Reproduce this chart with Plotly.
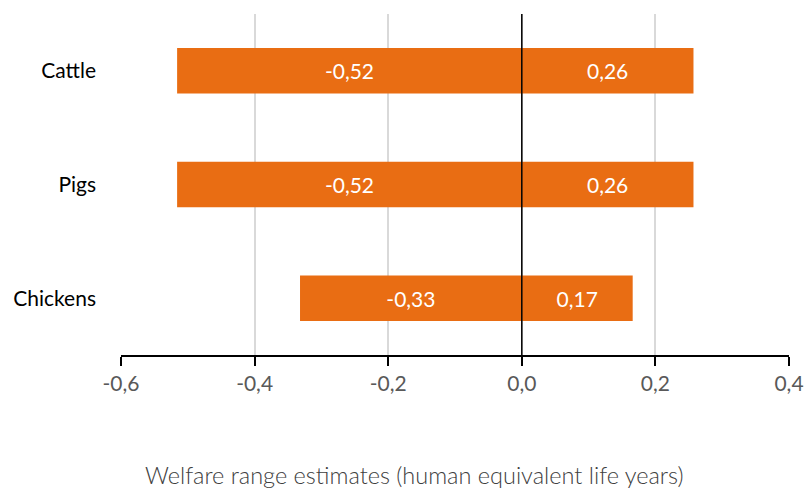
import plotly.graph_objects as go

categories = ["Cattle", "Pigs", "Chickens"]
low_values = [-0.516, -0.516, -0.332]
high_values = [0.257, 0.257, 0.166]
tick_values = [-0.6, -0.4, -0.2, 0.0, 0.2, 0.4]
tick_labels = ["-0,6", "-0,4", "-0,2", "0,0", "0,2", "0,4"]
axis_title = "Welfare range estimates (human equivalent life years)"

ORANGE = "#E96D13"
FONT = "Lato"

fig = go.Figure()
for vals in (low_values, high_values):
    fig.add_trace(go.Bar(
        y=categories, x=vals, orientation="h",
        marker=dict(color=ORANGE, line=dict(width=0)),
        width=0.4,
        text=[f"{v:.2f}".replace(".", ",") for v in vals],
        textposition="inside", insidetextanchor="middle",
        textfont=dict(family=FONT, size=21, color="white"),
        showlegend=False, cliponaxis=False,
    ))

fig.add_shape(type="line", x0=0, x1=0, xref="x", y0=0, y1=1, yref="paper",
              line=dict(color="black", width=1.5), layer="above")

fig.add_annotation(text=axis_title, xref="paper", yref="paper", x=0.44, y=-0.352,
                   xanchor="center", yanchor="middle", showarrow=False,
                   font=dict(family=FONT, size=23.5, color="#404040", weight=300))

fig.update_layout(
    width=805, height=490,
    margin=dict(l=121, r=16, t=14, b=135),
    barmode="overlay",
    plot_bgcolor="white", paper_bgcolor="white",
    font=dict(family=FONT, color="#000000"),
    uniformtext=dict(mode=False),
    xaxis=dict(
        range=[-0.6, 0.4], tickvals=tick_values, ticktext=tick_labels,
        automargin=False,
        showgrid=True, gridcolor="#D9D9D9", gridwidth=1.5,
        zeroline=False, showline=True, linecolor="black", linewidth=1.5,
        ticks="outside", ticklen=9, tickcolor="black", tickwidth=1.5,
        tickfont=dict(family=FONT, size=21, color="#595959"),
    ),
    yaxis=dict(
        categoryorder="array", categoryarray=categories, autorange="reversed",
        automargin=False,
        showgrid=False, zeroline=False, showline=False, ticks="",
        ticklabelstandoff=24,
        tickfont=dict(family=FONT, size=21, color="#000000"),
    ),
)

fig.write_html("out.html",
               config={"displayModeBar": False},
               post_script="document.body.style.margin='0';document.body.style.overflow='hidden';")
